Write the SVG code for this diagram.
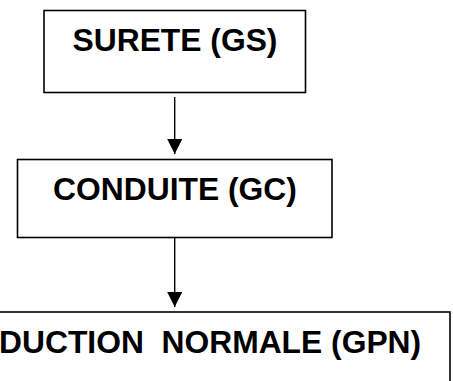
<svg xmlns="http://www.w3.org/2000/svg" width="453" height="381" viewBox="0 0 453 381">
  <style>
    .box { fill: #ffffff; stroke: #000000; stroke-width: 1.6; }
    .label { font-family: "Liberation Sans", Arial, sans-serif; font-weight: bold; font-size: 31.8px; fill: #000000; }
    .link { stroke: #000000; stroke-width: 1.4; fill: none; }
  </style>
  <defs>
    <marker id="arrow" markerUnits="userSpaceOnUse" markerWidth="16" markerHeight="16" refX="15" refY="7.5" orient="auto">
      <path d="M0,0 L15,7.5 L0,15 Z" fill="#000000"/>
    </marker>
  </defs>
  <rect width="453" height="381" fill="#ffffff"/>

  <g id="node-surete">
    <rect class="box" x="44" y="10.5" width="261.5" height="82"/>
    <text class="label" x="175" y="51" text-anchor="middle">SURETE (GS)</text>
  </g>

  <g id="node-conduite">
    <rect class="box" x="17.5" y="159.5" width="314.5" height="78"/>
    <text class="label" x="175" y="200" text-anchor="middle">CONDUITE (GC)</text>
  </g>

  <g id="node-production">
    <rect class="box" x="-100" y="312" width="550" height="100"/>
    <text class="label" x="-1" y="353" xml:space="preserve">DUCTION  NORMALE (GPN)</text>
  </g>

  <g id="connectors">
    <line class="link" x1="174.7" y1="97" x2="174.7" y2="154" marker-end="url(#arrow)"/>
    <line class="link" x1="174.7" y1="238" x2="174.7" y2="307" marker-end="url(#arrow)"/>
  </g>
</svg>
